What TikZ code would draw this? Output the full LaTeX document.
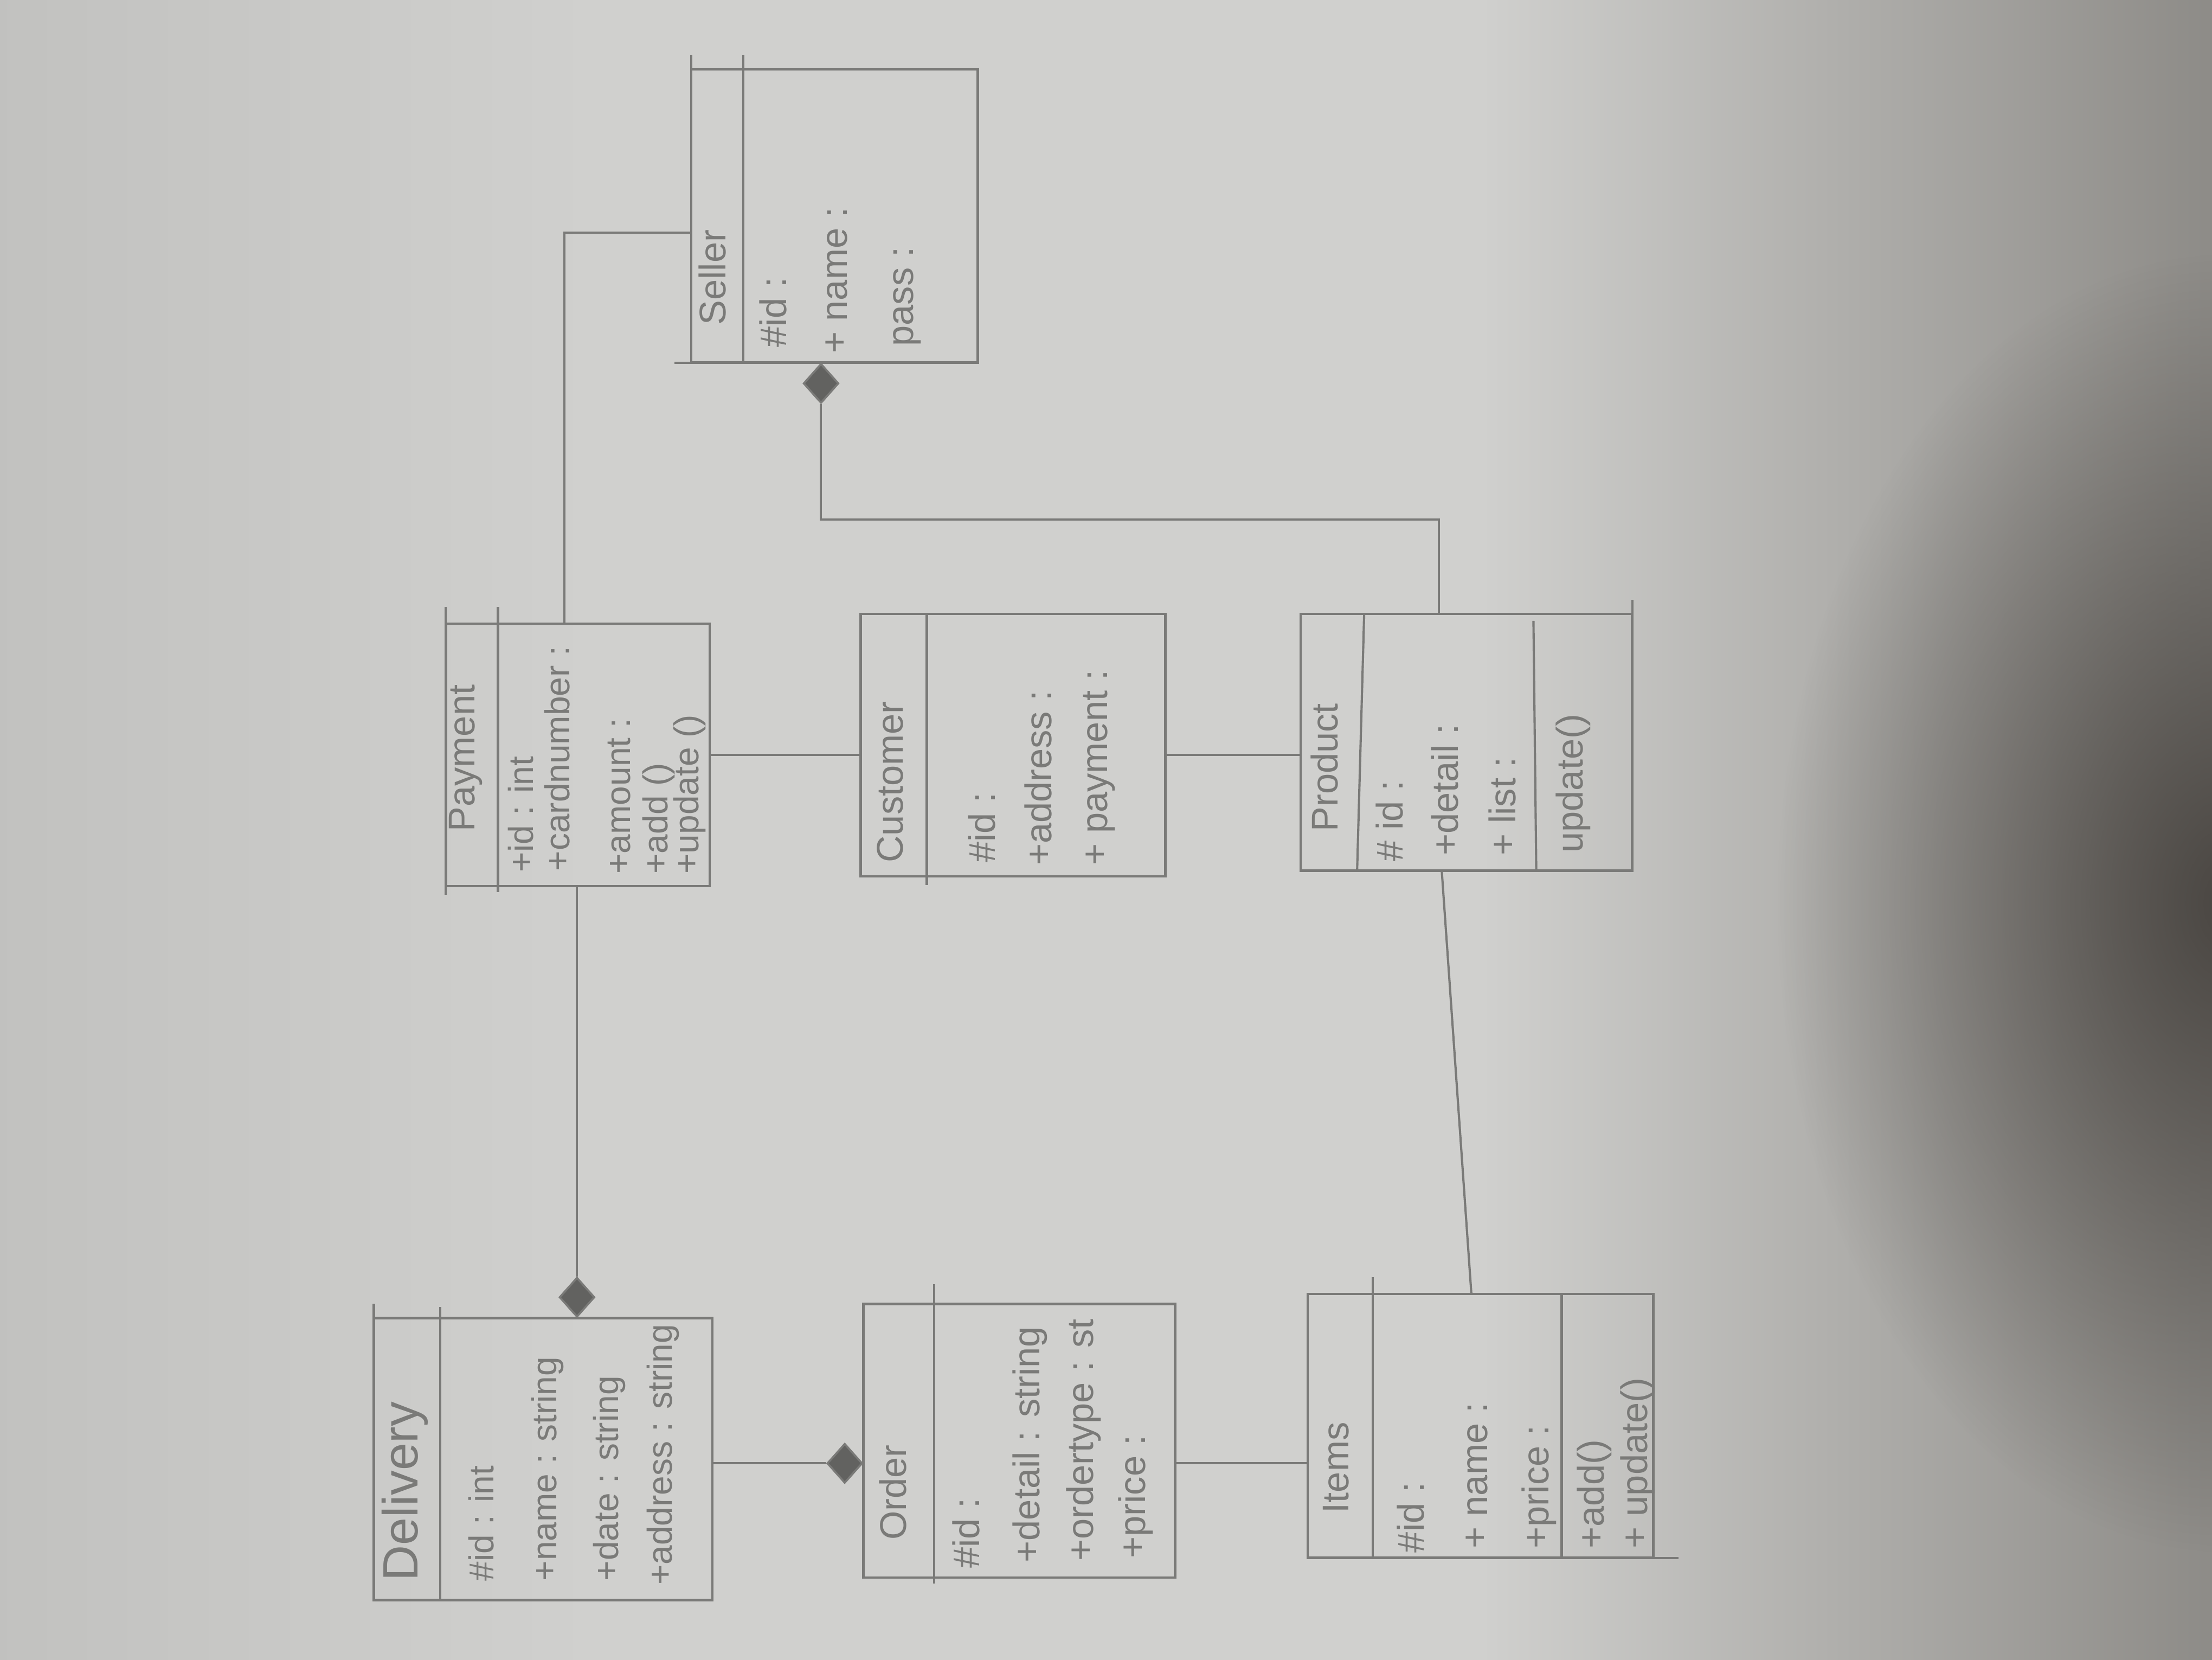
\documentclass[tikz,border=0pt]{standalone}
\usepackage{fontspec}
\setmainfont{Liberation Sans}
\usepackage{tikz}
\usetikzlibrary{shapes.geometric,calc,fadings}
\definecolor{paper}{RGB}{208,208,206}
\definecolor{paperleft}{RGB}{193,193,191}
\definecolor{paperdark}{RGB}{140,138,134}
\definecolor{shadowc}{RGB}{74,70,66}
\definecolor{pencil}{RGB}{122,122,120}
\definecolor{lead}{RGB}{98,98,96}
\tikzfading[name=blobfade,inner color=transparent!0,outer color=transparent!100]

\begin{document}
\begin{tikzpicture}[
    x=0.1mm, y=-0.1mm,
    cls/.style={draw=pencil,line width=0.5pt,inner sep=0pt,outer sep=0pt,anchor=north west},
    cname/.style={text=pencil,rotate=90,anchor=west,inner sep=0pt,font=\fontsize{7.5}{9}\selectfont},
    attr/.style={cname},
    attrsm/.style={cname,font=\fontsize{7}{8}\selectfont},
    diam/.style={diamond,draw=pencil,fill=lead,inner sep=0pt,minimum width=2.5mm,minimum height=2.8mm},
    link/.style={draw=pencil,line width=0.45pt}
  ]
    \useasboundingbox (0,0) rectangle (1568,1176);
    \fill[paper] (-10,-10) rectangle (1578,1186);
    \shade[left color=paperleft,right color=paper] (-10,-10) rectangle (420,1186);
    \shade[left color=paper,right color=paperdark] (1050,-10) rectangle (1578,1186);
    \fill[shadowc,path fading=blobfade] (1580,640) ellipse [x radius=32mm,y radius=46mm];

    \node[cls,minimum width=20.3mm,minimum height=20.8mm] (seller) at (490,49) {};
    \draw[link] ($(seller.north west)+(0,-10)$) -- (seller.north west);
    \draw[link] ($(seller.north west)+(37,-10)$) -- ($(seller.south west)+(37,0)$);
    \draw[link] ($(seller.south west)+(-12,0)$) -- (seller.south west);
    \node[cname] (sellerN) at (505,231) {Seller};
    \node[attr] (sellerA1) at (548,247) {\#id :};
    \node[attr] (sellerA2) at (593,251) {+ name :};
    \node[attr] (sellerA3) at (643,246) {pass :};

    \node[cls,minimum width=18.7mm,minimum height=18.6mm] (payment) at (316,442) {};
    \draw[link] ($(payment.north west)+(0,-12)$) -- (payment.north west);
    \draw[link] ($(payment.north west)+(37,-12)$) -- ($(payment.south west)+(37,4)$);
    \draw[link] (payment.south west) -- ++(0,6);
    \node[cname] (paymentN) at (330,590) {Payment};
    \node[attrsm] (paymentA1) at (369,619) {+id : int};
    \node[attrsm] (paymentA2) at (395,618) {+cardnumber :};
    \node[attrsm] (paymentA3) at (439,620) {+amount :};
    \node[attrsm] (paymentM1) at (467,620) {+add ()};
    \node[attrsm] (paymentM2) at (489,620) {+update ()};

    \node[cls,minimum width=21.6mm,minimum height=18.6mm] (customer) at (610,435) {};
    \draw[link] ($(customer.north west)+(47,0)$) -- ($(customer.south west)+(47,6)$);
    \node[cname] (customerN) at (631,612) {Customer};
    \node[attr] (customerA1) at (696,612) {\#id :};
    \node[attr] (customerA2) at (736,614) {+address :};
    \node[attr] (customerA3) at (779,614) {+ payment :};

    \node[cls,minimum width=23.5mm,minimum height=18.2mm] (product) at (922,435) {};
    \draw[link] ($(product.north west)+(45,0)$) -- ($(product.south west)+(40,0)$);
    \draw[link] ($(product.north west)+(165,5)$) -- ($(product.south west)+(167,0)$);
    \draw[link] (product.north east) -- ++(0,-10);
    \node[cname] (productN) at (939,590) {Product};
    \node[attr] (productA1) at (985,611) {\# id :};
    \node[attr] (productA2) at (1024,607) {+detail :};
    \node[attr] (productA3) at (1065,607) {+ list :};
    \node[attr] (productM1) at (1115,605) {update()};

    \node[cls,minimum width=24mm,minimum height=20mm] (delivery) at (265,934) {};
    \draw[link] ($(delivery.north west)+(0,-10)$) -- (delivery.north west);
    \draw[link] ($(delivery.north west)+(47,-8)$) -- ($(delivery.south west)+(47,0)$);
    \node[cname,font=\fontsize{10}{12}\selectfont] (deliveryN) at (287,1121) {Delivery};
    \node[attrsm] (deliveryA1) at (341,1121) {\#id : int};
    \node[attrsm] (deliveryA2) at (388,1121) {+name : string};
    \node[attrsm] (deliveryA3) at (432,1121) {+date : string};
    \node[attrsm] (deliveryA4) at (470,1124) {+address : string};

    \node[cls,minimum width=22.1mm,minimum height=19.4mm] (order) at (612,924) {};
    \draw[link] ($(order.north west)+(50,-14)$) -- ($(order.south west)+(50,4)$);
    \node[cname] (orderN) at (633,1092) {Order};
    \node[attr] (orderA1) at (685,1112) {\#id :};
    \node[attr] (orderA2) at (730,1108) {+detail : string};
    \node[attr] (orderA3) at (768,1107) {+ordertype : st};
    \node[attr] (orderA4) at (805,1105) {+price :};

    \node[cls,minimum width=24.5mm,minimum height=18.7mm] (items) at (927,917) {};
    \draw[link] ($(items.north west)+(46,-12)$) -- ($(items.south west)+(46,0)$);
    \draw[link] ($(items.north west)+(180,0)$) -- ($(items.south west)+(180,0)$);
    \draw[link] (items.south east) -- ++(18,0);
    \node[cname] (itemsN) at (947,1073) {Items};
    \node[attr] (itemsA1) at (1000,1101) {\#id :};
    \node[attr] (itemsA2) at (1047,1098) {+ name :};
    \node[attr] (itemsA3) at (1091,1098) {+price :};
    \node[attr] (itemsM1) at (1130,1098) {+add()};
    \node[attr] (itemsM2) at (1161,1098) {+ update()};

    \coordinate (kpay) at (400,165);
    \coordinate (kprod) at (1020,368);
    \coordinate (kdel) at (409,0);
    \coordinate (kord) at (0,1037);

    \node[diam,anchor=north] (dseller) at ($(seller.south west)+(92,0)$) {};
    \node[diam,anchor=south] (ddel) at (kdel |- delivery.north) {};
    \node[diam,anchor=east] (dord) at (order.west |- kord) {};

    \draw[link] (kpay |- payment.north) -- (kpay) -- (kpay -| seller.west);
    \draw[link] (dseller.south) |- (kprod) -- (kprod |- product.north);
    \draw[link] (kdel |- payment.south) -- (ddel.north);
    \draw[link] (payment.east) -- (payment.east -| customer.west);
    \draw[link] (customer.east |- payment.east) -- (payment.east -| product.west);
    \draw[link] ($(product.south west)+(100,0)$) -- ($(items.north west)+(116,0)$);
    \draw[link] (delivery.east |- kord) -- (dord.west);
    \draw[link] (order.east |- kord) -- (items.west |- kord);
  \end{tikzpicture}
\end{document}
